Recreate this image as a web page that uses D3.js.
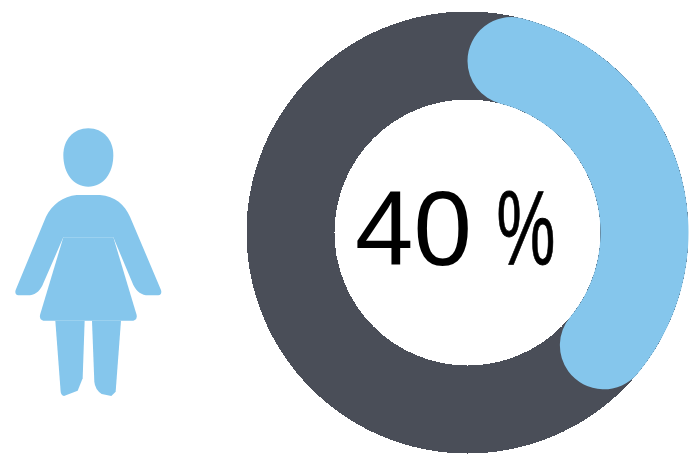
<!DOCTYPE html>
<html>
<head>
<meta charset="utf-8">
<script src="https://cdn.jsdelivr.net/npm/d3@7/dist/d3.min.js"></script>
<style>
html, body { margin: 0; padding: 0; background: #fff; overflow: hidden; }
svg { display: block; }
</style>
</head>
<body>
<script>
// Share shown by the gauge, in percent
const shareValue = [40];
const shareTotal = [100];
const digitLabel = ["40"];
const unitLabel = ["%"];

const width = 689, height = 455;
const ringX = 467.5, ringY = 232.5, outerR = 221, innerR = 133;
const capR = (outerR - innerR) / 2;
const ringColor = "#4a4e58", fillColor = "#85c6ec";

const svg = d3.select("body").append("svg")
  .attr("width", width).attr("height", height);

// Gauge: percent to angle, clockwise from twelve o'clock
const angle = d3.scaleLinear().domain([0, shareTotal[0]]).range([0, 2 * Math.PI]);
const ring = svg.append("g").attr("transform", `translate(${ringX},${ringY})`);

ring.append("path")
  .attr("d", d3.arc().innerRadius(innerR).outerRadius(outerR)
    .startAngle(angle(0)).endAngle(angle(shareTotal[0]))())
  .attr("fill", ringColor)
  .attr("shape-rendering", "crispEdges");

ring.selectAll("path.share").data(shareValue).join("path")
  .attr("class", "share")
  .attr("d", d => d3.arc().innerRadius(innerR).outerRadius(outerR).cornerRadius(capR)
    .startAngle(angle(0)).endAngle(angle(d))())
  .attr("fill", fillColor);

// Centre label: narrow percent sign beside the digits
svg.append("text").text(digitLabel[0])
  .attr("x", 355).attr("y", 265)
  .attr("font-family", "'Liberation Sans', Arial, sans-serif")
  .attr("font-size", 105).attr("fill", "#000");
svg.append("text").text(unitLabel[0])
  .attr("transform", "translate(496.5,264) scale(0.63,1)")
  .attr("font-family", "'Liberation Sans Narrow', 'Liberation Sans', sans-serif")
  .attr("font-size", 105).attr("fill", "#000")
  .attr("stroke", "#000").attr("stroke-width", 0.8);

// Female pictogram, drawn in a 3x grid and scaled down
const figureParts = [
  "M265,55 C310,55 340,90 340,135 C340,190 310,230 265,230 C220,230 190,190 190,135 C190,90 220,55 265,55 Z",
  "M47,540 L138,320 C155,285 190,258 230,255 L300,255 C345,258 375,285 390,320 L483,540 Q487,553 475,556 L445,556 C425,556 410,545 400,525 L340,382 L190,382 L130,520 C122,540 110,553 90,556 L55,556 Q43,553 47,540 Z",
  "M190,382 L340,382 L410,615 Q412,630 400,632 L130,632 Q118,630 120,615 Z",
  "M166,632 L254,632 L248,805 L233,842 L192,858 Q183,855 182,845 Z",
  "M276,632 L363,632 L347,845 L334,858 L305,852 Q285,838 283,815 Z"
];
svg.append("g").attr("transform", "translate(0,110) scale(0.3333)")
  .selectAll("path").data(figureParts).join("path")
  .attr("d", d => d).attr("fill", fillColor);
</script>
</body>
</html>
